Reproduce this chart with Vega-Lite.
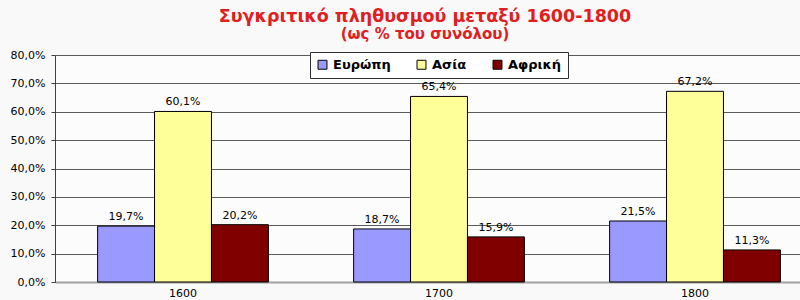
{
  "$schema": "https://vega.github.io/schema/vega-lite/v6.json",
  "width": 768,
  "height": 227,
  "autosize": "none",
  "padding": {"left": 55, "top": 55, "right": 0, "bottom": 18},
  "background": "#f9f9f9",
  "title": {
    "text": "Συγκριτικό πληθυσμού μεταξύ 1600-1800",
    "subtitle": "(ως % του συνόλου)",
    "font": "DejaVu Sans",
    "fontSize": 17.5,
    "fontWeight": "bold",
    "color": "#e02020",
    "subtitleFont": "DejaVu Sans",
    "subtitleFontSize": 15,
    "subtitleFontWeight": "bold",
    "subtitleColor": "#e02020",
    "subtitlePadding": 2,
    "anchor": "middle",
    "dx": -14,
    "offset": 7
  },
  "data": {
    "values": [
      {"year": "1600", "region": "Ευρώπη", "order": 1, "share": 0.197},
      {"year": "1600", "region": "Ασία", "order": 2, "share": 0.601},
      {"year": "1600", "region": "Αφρική", "order": 3, "share": 0.202},
      {"year": "1700", "region": "Ευρώπη", "order": 1, "share": 0.187},
      {"year": "1700", "region": "Ασία", "order": 2, "share": 0.654},
      {"year": "1700", "region": "Αφρική", "order": 3, "share": 0.159},
      {"year": "1800", "region": "Ευρώπη", "order": 1, "share": 0.215},
      {"year": "1800", "region": "Ασία", "order": 2, "share": 0.672},
      {"year": "1800", "region": "Αφρική", "order": 3, "share": 0.113}
    ]
  },
  "encoding": {
    "x": {
      "field": "year",
      "type": "nominal",
      "scale": {"paddingInner": 0.333, "paddingOuter": 0.1665},
      "axis": {
        "title": null,
        "labelAngle": 0,
        "labelFont": "DejaVu Sans",
        "labelFontSize": 11,
        "labelColor": "#000000",
        "labelPadding": 5,
        "ticks": false,
        "domainColor": "#a0a0a0",
        "domainWidth": 2
      }
    },
    "xOffset": {"field": "region", "type": "nominal", "sort": ["Ευρώπη", "Ασία", "Αφρική"], "scale": {"paddingInner": 0, "paddingOuter": 0}},
    "y": {
      "field": "share",
      "type": "quantitative",
      "scale": {"domain": [0, 0.8], "nice": false},
      "axis": {
        "title": null,
        "format": ".1%",
        "values": [0, 0.1, 0.2, 0.3, 0.4, 0.5, 0.6, 0.7, 0.8],
        "labelFont": "DejaVu Sans",
        "labelFontSize": 11,
        "labelColor": "#000000",
        "labelPadding": 6,
        "tickSize": 4,
        "tickColor": "#404040",
        "domainColor": "#404040",
        "gridColor": "#5a5a5a",
        "gridWidth": 1
      }
    }
  },
  "layer": [
    {
      "mark": {"type": "bar", "stroke": "#000000", "strokeWidth": 1},
      "encoding": {
        "color": {
          "field": "region",
          "type": "nominal",
          "sort": ["Ευρώπη", "Ασία", "Αφρική"],
          "scale": {"domain": ["Ευρώπη", "Ασία", "Αφρική"], "range": ["#9999ff", "#ffff99", "#800000"]},
          "legend": {
            "title": null,
            "orient": "none",
            "direction": "horizontal",
            "legendX": 255,
            "legendY": -3,
            "labelFont": "DejaVu Sans",
            "labelFontSize": 13,
            "labelFontWeight": "bold",
            "labelColor": "#000000",
            "symbolType": "square",
            "symbolSize": 80,
            "symbolStrokeColor": "#000000",
            "symbolStrokeWidth": 1,
            "columnPadding": 24,
            "padding": 6,
            "strokeColor": "#303030",
            "fillColor": "#ffffff"
          }
        }
      }
    },
    {
      "mark": {"type": "text", "baseline": "bottom", "dy": -4, "font": "DejaVu Sans", "fontSize": 11, "color": "#000000"},
      "encoding": {
        "text": {"field": "share", "type": "quantitative", "format": ".1%"}
      }
    }
  ],
  "config": {
    "locale": {
      "number": {"decimal": ",", "thousands": ".", "grouping": [3], "currency": ["", " €"]}
    },
    "view": {"stroke": null, "fill": "#fcfcfc"}
  }
}
